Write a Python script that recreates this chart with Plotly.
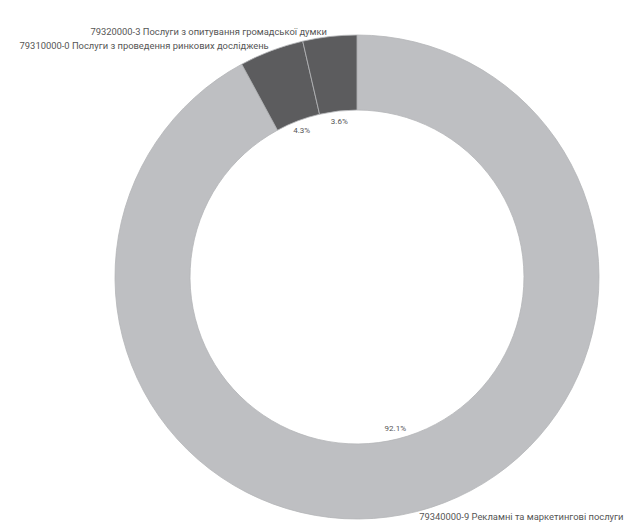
import plotly.graph_objects as go

labels = [
    "79340000-9 Рекламні та маркетингові послуги",
    "79310000-0 Послуги з проведення ринкових досліджень",
    "79320000-3 Послуги з опитування громадської думки",
]
values = [92.1, 4.3, 3.6]
colors = ["#bebfc2", "#5c5c5e", "#5c5c5e"]

W, H = 633, 532
cx, cy = 349, 269

def dom(cx, cy, r):
    return dict(x=[(cx - r) / W, (cx + r) / W], y=[(H - cy - r) / H, (H - cy + r) / H])

fig = go.Figure()
fig.add_trace(go.Pie(
    labels=labels, values=values, sort=False, direction="clockwise", rotation=0,
    hole=0.69, marker=dict(colors=colors, line=dict(color="#b4b5b8", width=0.8)),
    textinfo="label", textposition="outside",
    outsidetextfont=dict(family="Roboto", size=9.4, color="#555555"),
    domain=dom(cx, cy, 242), showlegend=False, hoverinfo="skip",
))
fig.add_trace(go.Pie(
    labels=labels, values=values, sort=False, direction="clockwise", rotation=0,
    hole=0.84,
    marker=dict(colors=["rgba(0,0,0,0)"] * 3, line=dict(width=0)),
    texttemplate="%{percent:.1%}", textposition="inside", insidetextorientation="horizontal",
    insidetextfont=dict(family="Roboto", size=8, color="#555555"),
    domain=dom(cx, cy, 170), showlegend=False, hoverinfo="skip",
))
fig.update_layout(width=W, height=H, margin=dict(l=0, r=0, t=0, b=0),
                  paper_bgcolor="white", plot_bgcolor="white")
fig.write_html("out.html")
